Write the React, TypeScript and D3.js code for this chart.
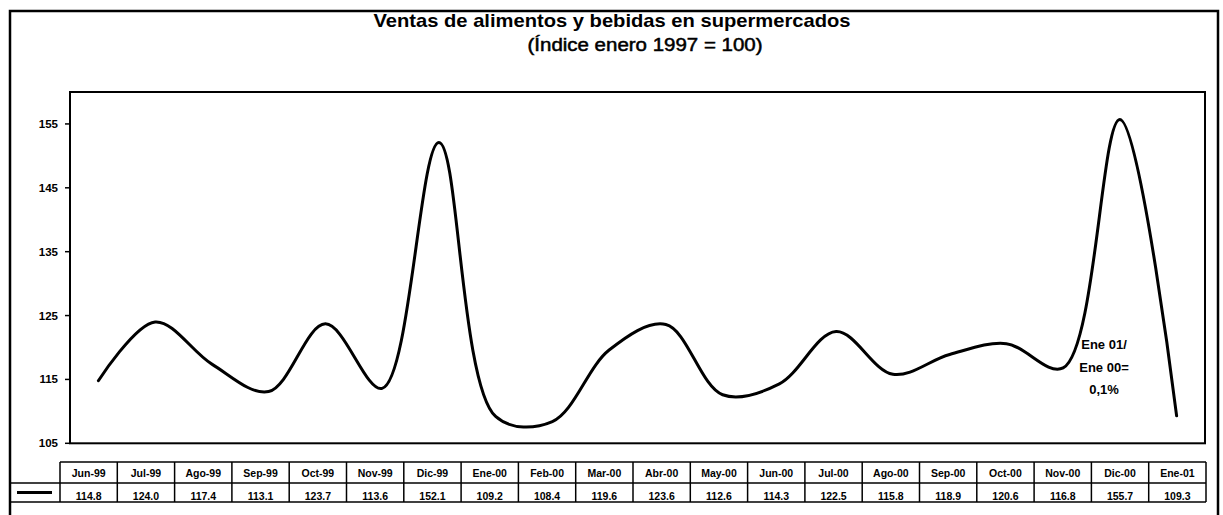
import React from "react";
import * as d3 from "d3";

const months = ["Jun-99","Jul-99","Ago-99","Sep-99","Oct-99","Nov-99","Dic-99","Ene-00","Feb-00","Mar-00","Abr-00","May-00","Jun-00","Jul-00","Ago-00","Sep-00","Oct-00","Nov-00","Dic-00","Ene-01"];
const values = [114.8,124.0,117.4,113.1,123.7,113.6,152.1,109.2,108.4,119.6,123.6,112.6,114.3,122.5,115.8,118.9,120.6,116.8,155.7,109.3];
const yTicks = [105,115,125,135,145,155];
const title = "Ventas de alimentos y bebidas en supermercados";
const subtitle = "(Índice enero 1997 = 100)";
const noteLines = ["Ene 01/","Ene 00=","0,1%"];

const W = 1223, H = 515;
const plot = { left: 70, right: 1205, top: 92, bottom: 443.3 };
const table = { left: 60, right: 1206, top: 462, mid: 483, bottom: 502, frameLeft: 10 };
const font = "'Liberation Sans', Arial, Helvetica, sans-serif";

export default function App() {
  const x = d3.scaleBand<string>().domain(months).range([plot.left, plot.right]);
  const y = d3.scaleLinear().domain([105, 160]).range([plot.bottom, plot.top]);
  const tx = d3.scaleBand<string>().domain(months).range([table.left, table.right]);
  const line = d3
    .line<number>()
    .x((_, i) => (x(months[i]) as number) + x.bandwidth() / 2)
    .y((d) => y(d))
    .curve(d3.curveCatmullRom.alpha(0.5));

  return (
    <svg width={W} height={H} style={{ position: "absolute", left: 0, top: 0, background: "#fff" }} fontFamily={font}>
      {/* outer frame */}
      <path d={`M10,${H + 5} V11 H1218 V${H + 5}`} fill="none" stroke="#000" strokeWidth={2.5} />
      {/* title */}
      <text x={612} y={27} textAnchor="middle" fontSize={19} fontWeight="bold" textLength={477} lengthAdjust="spacingAndGlyphs">{title}</text>
      <text x={645} y={51} textAnchor="middle" fontSize={18} stroke="#000" strokeWidth={0.5} textLength={235} lengthAdjust="spacingAndGlyphs">{subtitle}</text>
      {/* plot frame */}
      <rect x={plot.left} y={plot.top} width={plot.right - plot.left} height={plot.bottom - plot.top} fill="none" stroke="#000" strokeWidth={2} />
      {/* y axis ticks */}
      {yTicks.map((t) => (
        <g key={t}>
          <line x1={65} x2={plot.left} y1={y(t)} y2={y(t)} stroke="#000" strokeWidth={1.5} />
          <text x={58} y={y(t)} dy="0.35em" textAnchor="end" fontSize={11.5} fontWeight="bold">{t}</text>
        </g>
      ))}
      {/* line */}
      <path d={line(values) || ""} fill="none" stroke="#000" strokeWidth={3} strokeLinejoin="round" strokeLinecap="round" />
      {/* annotation */}
      {noteLines.map((s, i) => (
        <text key={i} x={1104} y={349 + i * 22.5} textAnchor="middle" fontSize={13} fontWeight="bold">{s}</text>
      ))}
      {/* table */}
      <g stroke="#000" strokeWidth={1.5} fill="none">
        <line x1={table.left} x2={table.right} y1={table.top} y2={table.top} />
        <line x1={table.frameLeft} x2={table.right} y1={table.mid} y2={table.mid} />
        <line x1={table.frameLeft} x2={table.right} y1={table.bottom} y2={table.bottom} />
        <line x1={table.left} x2={table.left} y1={table.top} y2={table.bottom} />
        {months.map((m) => (
          <line key={m} x1={(tx(m) as number) + tx.bandwidth()} x2={(tx(m) as number) + tx.bandwidth()} y1={table.top} y2={table.bottom} />
        ))}
      </g>
      <line x1={17} x2={52} y1={492.5} y2={492.5} stroke="#000" strokeWidth={3} />
      {months.map((m, i) => (
        <g key={m}>
          <text x={(tx(m) as number) + tx.bandwidth() / 2} y={476.5} textAnchor="middle" fontSize={10.5} fontWeight="bold">{m}</text>
          <text x={(tx(m) as number) + tx.bandwidth() / 2} y={499.5} textAnchor="middle" fontSize={10.5} fontWeight="bold">{values[i].toFixed(1)}</text>
        </g>
      ))}
    </svg>
  );
}
